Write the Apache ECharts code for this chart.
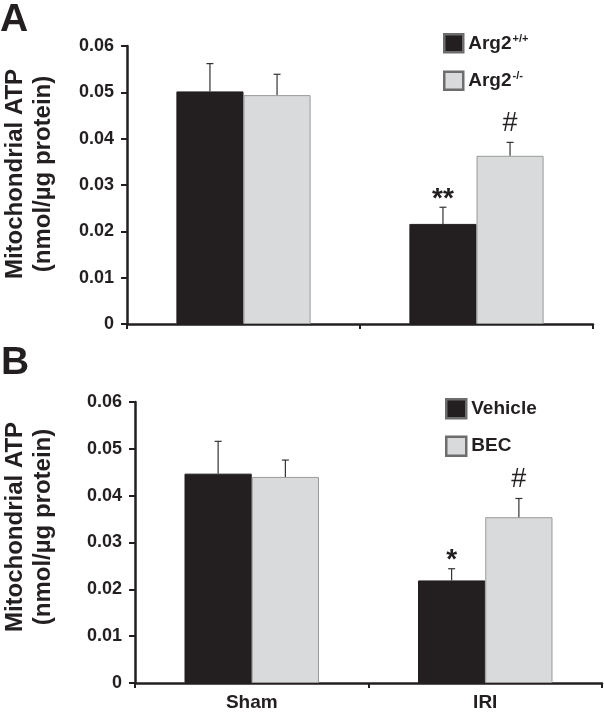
<!DOCTYPE html>
<html>
<head>
<meta charset="utf-8">
<script src="https://cdn.jsdelivr.net/npm/echarts@6/dist/echarts.min.js"></script>
<style>html,body{margin:0;padding:0;background:#fff}#c{width:604px;height:717px}</style>
</head>
<body>
<div id="c"></div>
<script>
// ---- data ----
const categories = ['Sham', 'IRI'];
const yTickLabels = ['0', '0.01', '0.02', '0.03', '0.04', '0.05', '0.06'];
const seriesNamesA = ['Arg2+/+', 'Arg2-/-'];
const seriesNamesB = ['Vehicle', 'BEC'];
const arg2WT = [0.0502, 0.0216];
const arg2WTErr = [0.0060, 0.0036];
const arg2KO = [0.0494, 0.0363];
const arg2KOErr = [0.0045, 0.0029];
const vehicle = [0.0447, 0.0219];
const vehicleErr = [0.0069, 0.0025];
const bec = [0.0440, 0.0354];
const becErr = [0.0036, 0.0040];
const annWT = ['', '**'];
const annKO = ['', '#'];
const annVeh = ['', '*'];
const annBEC = ['', '#'];

const FONT = '"Liberation Sans", Arial, Helvetica, sans-serif';
const INK = '#231f20';
const BLACK = '#231f20';
const GREY = '#d9dadc';
const BAR_W = 0.288;

const chart = echarts.init(document.getElementById('c'), null, {renderer: 'canvas'});

function yAxisCfg(gi) {
  return {
    gridIndex: gi, type: 'value', min: 0, max: 0.06, interval: 0.01,
    splitLine: {show: false},
    axisLine: {show: true, lineStyle: {color: INK, width: 2.5}},
    axisTick: {show: true, length: 6, lineStyle: {color: INK, width: 2}},
    axisLabel: {
      margin: 13, color: INK, fontFamily: FONT, fontWeight: 'bold', fontSize: 18,
      formatter: (v) => yTickLabels[Math.round(v / 0.01)]
    }
  };
}
function xAxisCfg(gi, showLabels) {
  return {
    gridIndex: gi, type: 'category', data: categories,
    axisLine: {show: true, lineStyle: {color: INK, width: 2.5}},
    axisTick: {show: true, length: 5, lineStyle: {color: INK, width: 2}},
    axisLabel: {show: showLabels, margin: 10, color: INK, fontFamily: FONT, fontWeight: 'bold', fontSize: 19}
  };
}
function barSeries(name, data, gi, color, border) {
  return {
    name, type: 'bar', xAxisIndex: gi, yAxisIndex: gi, data,
    barWidth: (BAR_W * 100) + '%', barGap: '0%',
    itemStyle: {color, borderColor: border, borderWidth: 1},
    emphasis: {disabled: true}
  };
}
function errSeries(vals, errs, anns, gi, side) {
  return {
    type: 'custom', xAxisIndex: gi, yAxisIndex: gi, z: 5, silent: true,
    data: vals.map((v, i) => [i, v, errs[i]]),
    encode: {x: 0, y: 1},
    renderItem: function (params, api) {
      const ci = api.value(0), v = api.value(1), e = api.value(2);
      const band = api.size([1, 0])[0];
      const p0 = api.coord([ci, v]);
      const p1 = api.coord([ci, v + e]);
      const x = p0[0] + side * band * BAR_W / 2;
      const children = [
        {type: 'line', shape: {x1: x, y1: p0[1], x2: x, y2: p1[1]}, style: {stroke: '#333', lineWidth: 1.2}},
        {type: 'line', shape: {x1: x - 3.5, y1: p1[1], x2: x + 3.5, y2: p1[1]}, style: {stroke: '#333', lineWidth: 1.2}}
      ];
      const t = anns[params.dataIndex];
      if (t) {
        const star = t.charAt(0) === '*';
        children.push({
          type: 'text',
          style: {
            text: t, x: x, y: p1[1] - (star ? 8 : 19),
            align: 'center', verticalAlign: 'middle',
            font: (star ? 'bold 28px ' : 'normal 27px ') + FONT, fill: INK
          }
        });
      }
      return {type: 'group', children};
    }
  };
}
const legendText = {
  color: INK, fontFamily: FONT, fontWeight: 'bold', fontSize: 18,
  rich: {
    b: {color: INK, fontFamily: FONT, fontWeight: 'bold', fontSize: 19, lineHeight: 20, verticalAlign: 'bottom'},
    s: {color: INK, fontFamily: FONT, fontWeight: 'bold', fontSize: 11, lineHeight: 20, verticalAlign: 'top', padding: [0, 0, 0, 1]}
  }
};

const option = {
  animation: false,
  backgroundColor: '#fff',
  grid: [
    {left: 127, top: 46, width: 466, height: 278},
    {left: 135, top: 402, width: 467, height: 281}
  ],
  xAxis: [xAxisCfg(0, false), xAxisCfg(1, true)],
  yAxis: [yAxisCfg(0), yAxisCfg(1)],
  legend: [
    {
      data: seriesNamesA, orient: 'vertical', left: 438, top: 28,
      itemWidth: 19, itemHeight: 18, itemGap: 17, icon: 'rect',
      itemStyle: {borderColor: '#6d6d6d', borderWidth: 2.5},
      textStyle: legendText, selectedMode: false,
      formatter: (n) => n === 'Arg2+/+' ? '{b|Arg2}{s|+/+}' : '{b|Arg2}{s|-/-}'
    },
    {
      data: seriesNamesB, orient: 'vertical', left: 440, top: 393,
      itemWidth: 20, itemHeight: 19, itemGap: 16, icon: 'rect',
      itemStyle: {borderColor: '#6d6d6d', borderWidth: 2.5},
      textStyle: {color: INK, fontFamily: FONT, fontWeight: 'bold', fontSize: 19}, selectedMode: false
    }
  ],
  series: [
    barSeries(seriesNamesA[0], arg2WT, 0, BLACK, BLACK),
    barSeries(seriesNamesA[1], arg2KO, 0, GREY, '#9a9a9a'),
    barSeries(seriesNamesB[0], vehicle, 1, BLACK, BLACK),
    barSeries(seriesNamesB[1], bec, 1, GREY, '#9a9a9a'),
    errSeries(arg2WT, arg2WTErr, annWT, 0, -1),
    errSeries(arg2KO, arg2KOErr, annKO, 0, 1),
    errSeries(vehicle, vehicleErr, annVeh, 1, -1),
    errSeries(bec, becErr, annBEC, 1, 1)
  ],
  graphic: [
    {type: 'text', left: 0, top: 1, style: {text: 'A', font: 'bold 39px ' + FONT, fill: INK}},
    {type: 'text', left: 1, top: 344, style: {text: 'B', font: 'bold 39px ' + FONT, fill: INK}},
    {type: 'text', x: 15, y: 174, rotation: Math.PI / 2, style: {text: 'Mitochondrial ATP', font: 'bold 24px ' + FONT, fill: INK, align: 'center', verticalAlign: 'middle'}},
    {type: 'text', x: 43, y: 174, rotation: Math.PI / 2, style: {text: '(nmol/µg protein)', font: 'bold 24px ' + FONT, fill: INK, align: 'center', verticalAlign: 'middle'}},
    {type: 'text', x: 15, y: 527, rotation: Math.PI / 2, style: {text: 'Mitochondrial ATP', font: 'bold 24px ' + FONT, fill: INK, align: 'center', verticalAlign: 'middle'}},
    {type: 'text', x: 43, y: 527, rotation: Math.PI / 2, style: {text: '(nmol/µg protein)', font: 'bold 24px ' + FONT, fill: INK, align: 'center', verticalAlign: 'middle'}}
  ]
};
chart.setOption(option);
</script>
</body>
</html>
